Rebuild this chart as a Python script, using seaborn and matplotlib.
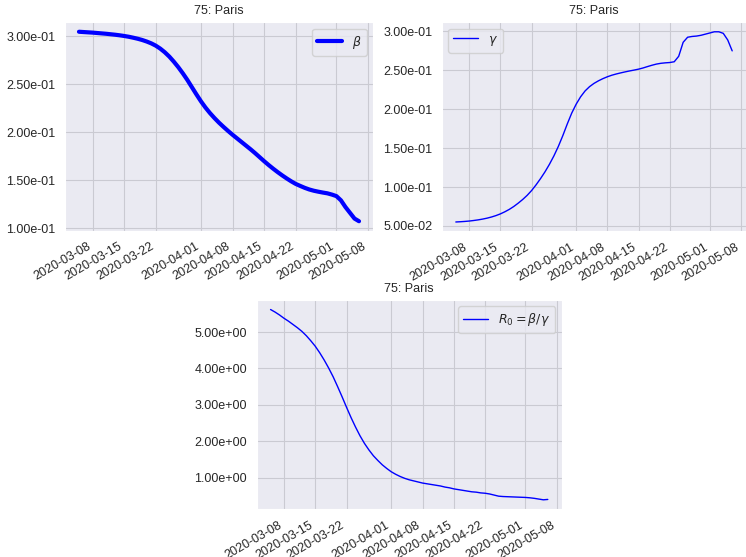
import pandas as pd
import matplotlib
matplotlib.use("Agg")
import matplotlib.pyplot as plt
import matplotlib.ticker as mticker
import seaborn as sns

# daily values, 2020-03-05 .. 2020-05-06
dates = pd.date_range("2020-03-05", "2020-05-06", freq="D")

beta = [0.3048, 0.3045, 0.3042, 0.3039, 0.3035, 0.3031, 0.3027, 0.3022, 0.3017, 0.3011,
        0.3004, 0.2996, 0.2986, 0.2975, 0.2962, 0.2946, 0.2927, 0.2903, 0.2872, 0.2834,
        0.2789, 0.2736, 0.2678, 0.2614, 0.2545, 0.2470, 0.2395,
        0.2323, 0.2258, 0.2200, 0.2148, 0.2100, 0.2056, 0.2014, 0.1974, 0.1936, 0.1898,
        0.1860, 0.1822, 0.1782, 0.1740, 0.1698, 0.1658, 0.1620, 0.1584, 0.1550, 0.1518,
        0.1488, 0.1461, 0.1440, 0.1420, 0.1403, 0.1390, 0.1380, 0.1371, 0.1363, 0.1350,
        0.1334, 0.1290, 0.1220, 0.1160, 0.1100, 0.1072]

gamma = [0.0551, 0.0554, 0.0558, 0.0563, 0.0570, 0.0578, 0.0588, 0.0600, 0.0615, 0.0633,
         0.0655, 0.0682, 0.0713, 0.0750, 0.0793, 0.0840, 0.0893, 0.0955, 0.1028, 0.1108,
         0.1195, 0.1292, 0.1400, 0.1522, 0.1660, 0.1810, 0.1950,
         0.2065, 0.2160, 0.2235, 0.2290, 0.2332, 0.2365, 0.2393, 0.2417, 0.2437, 0.2453,
         0.2467, 0.2480, 0.2492, 0.2503, 0.2515, 0.2530, 0.2548, 0.2565, 0.2580, 0.2590,
         0.2596, 0.2600, 0.2610, 0.2680, 0.2860, 0.2925, 0.2935, 0.2940, 0.2950, 0.2965,
         0.2980, 0.2995, 0.2995, 0.2975, 0.2890, 0.2750]

r0 = [5.62, 5.55, 5.47, 5.38, 5.30, 5.21, 5.12, 5.02, 4.90, 4.76,
      4.61, 4.43, 4.23, 4.01, 3.77, 3.50, 3.22, 2.93, 2.65, 2.39,
      2.15, 1.94, 1.76, 1.60, 1.47, 1.35, 1.25,
      1.16, 1.09, 1.03, 0.98, 0.94, 0.91, 0.88, 0.85, 0.83, 0.81,
      0.79, 0.77, 0.74, 0.72, 0.69, 0.67, 0.65, 0.63, 0.61, 0.60,
      0.58, 0.57, 0.55, 0.52, 0.49, 0.48, 0.475, 0.47, 0.465, 0.46,
      0.455, 0.445, 0.43, 0.41, 0.39, 0.40]

title = "75: Paris"

sns.set_style("darkgrid", {"grid.color": "#cacad2"})
plt.rcParams["font.family"] = ["Liberation Sans", "DejaVu Sans"]
plt.rcParams["font.size"] = 9
plt.rcParams["xtick.labelsize"] = 9
plt.rcParams["ytick.labelsize"] = 9
plt.rcParams["legend.fontsize"] = 9

fig = plt.figure(figsize=(7.46, 5.57), dpi=100)
ax1 = fig.add_axes([0.0871, 0.5858, 0.4129, 0.3742])
ax2 = fig.add_axes([0.5925, 0.5844, 0.4075, 0.3756])
ax3 = fig.add_axes([0.3441, 0.0856, 0.4088, 0.3758])

sns.lineplot(x=dates, y=beta, ax=ax1, color="blue", lw=3, label=r"$\beta$")
sns.lineplot(x=dates, y=gamma, ax=ax2, color="blue", lw=1, label=r"$\gamma$")
sns.lineplot(x=dates, y=r0, ax=ax3, color="blue", lw=1, label=r"$R_0 = \beta/\gamma$")

for ax, loc in [(ax1, "upper right"), (ax2, "upper left"), (ax3, "upper right")]:
    ax.set_title(title, fontsize=9)
    ax.yaxis.set_major_formatter(mticker.FormatStrFormatter("%.2e"))
    ax.legend(loc=loc)
    ax.set_xlabel("")
    plt.setp(ax.get_xticklabels(), rotation=30, ha="right")

fig.savefig("out.png", dpi=100)
